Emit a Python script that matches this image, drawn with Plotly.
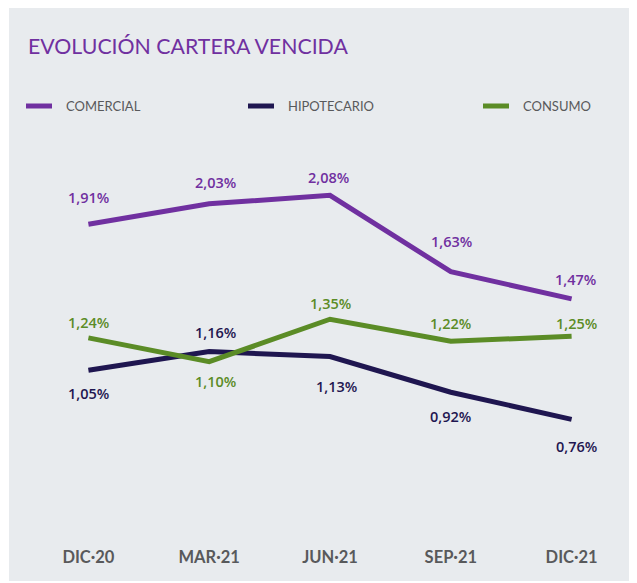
import plotly.graph_objects as go

periods = ["DIC·20", "MAR·21", "JUN·21", "SEP·21", "DIC·21"]
series_names = ["COMERCIAL", "HIPOTECARIO", "CONSUMO"]
comercial = [1.91, 2.03, 2.08, 1.63, 1.47]
hipotecario = [1.05, 1.16, 1.13, 0.92, 0.76]
consumo = [1.24, 1.10, 1.35, 1.22, 1.25]

colors = ["#7030a0", "#1f1650", "#5b8c26"]
# label offsets in px (styling only)
label_yshift = [
    [27, 21, 18, 30, 19],
    [-23, 19, -30, -24, -27],
    [15, -20, 16, 18, 13],
]
label_xshift = [
    [0, 6, -2, 1, 4],
    [0, 6, 6, 0, 5],
    [0, 6, 0, 0, 5],
]

OFF = 8  # page body margin
W, H = 629, 575
ML, MR, MT, MB = 20, 5, 133, 38
PW, PH = W - ML - MR, H - MT - MB


def px_x(p):
    return (p - OFF - ML) / PW


def px_y(p):
    return (H - (p - OFF) - MB) / PH


fig = go.Figure()
all_vals = [comercial, hipotecario, consumo]
for name, vals, col in zip(series_names, all_vals, colors):
    fig.add_trace(go.Scatter(
        x=list(range(len(periods))), y=vals, mode="lines", name=name,
        line=dict(color=col, width=5), showlegend=False,
        hoverinfo="skip"))

annotations = []
for s, (vals, col) in enumerate(zip(all_vals, colors)):
    for i, v in enumerate(vals):
        annotations.append(dict(
            x=i, y=v, xref="x", yref="y",
            text=f"{v:.2f}".replace(".", ",") + "%",
            showarrow=False, yshift=label_yshift[s][i], xshift=label_xshift[s][i],
            font=dict(family="Open Sans", size=14.5, color=col, weight=600)))

# legend
legend_x = [26, 248, 483]
shapes = [dict(type="rect", xref="paper", yref="paper",
               x0=px_x(9), x1=px_x(635), y0=px_y(581), y1=px_y(0),
               fillcolor="#e8ebee", line=dict(width=0), layer="below")]
for lx, name, col in zip(legend_x, series_names, colors):
    shapes.append(dict(type="line", xref="paper", yref="paper",
                       x0=px_x(lx), x1=px_x(lx + 26), y0=px_y(106), y1=px_y(106),
                       line=dict(color=col, width=5)))
    annotations.append(dict(x=px_x(lx + 38), y=px_y(106), xref="paper", yref="paper",
                            xanchor="left", yanchor="middle", showarrow=False,
                            text=name, font=dict(family="Lato", size=13, color="#58595b")))

fig.update_layout(
    width=W, height=H,
    margin=dict(l=ML, r=MR, t=MT, b=MB),
    paper_bgcolor="white", plot_bgcolor="rgba(0,0,0,0)",
    title=dict(text="EVOLUCIÓN CARTERA VENCIDA", x=px_x(28), xref="paper", xanchor="left",
               y=1 - (47 - OFF) / H, yref="container", yanchor="middle",
               font=dict(family="Lato", size=21.3, color="#7030a0")),
    xaxis=dict(range=[-0.5, 4.5], tickmode="array", tickvals=list(range(len(periods))),
               ticktext=periods, showgrid=False, zeroline=False, showline=False,
               ticks="", tickfont=dict(family="Lato", size=16.5, color="#58595b", weight=700)),
    yaxis=dict(range=[0.02, 2.4], visible=False),
    shapes=shapes, annotations=annotations,
)

fig.write_html("out.html")
